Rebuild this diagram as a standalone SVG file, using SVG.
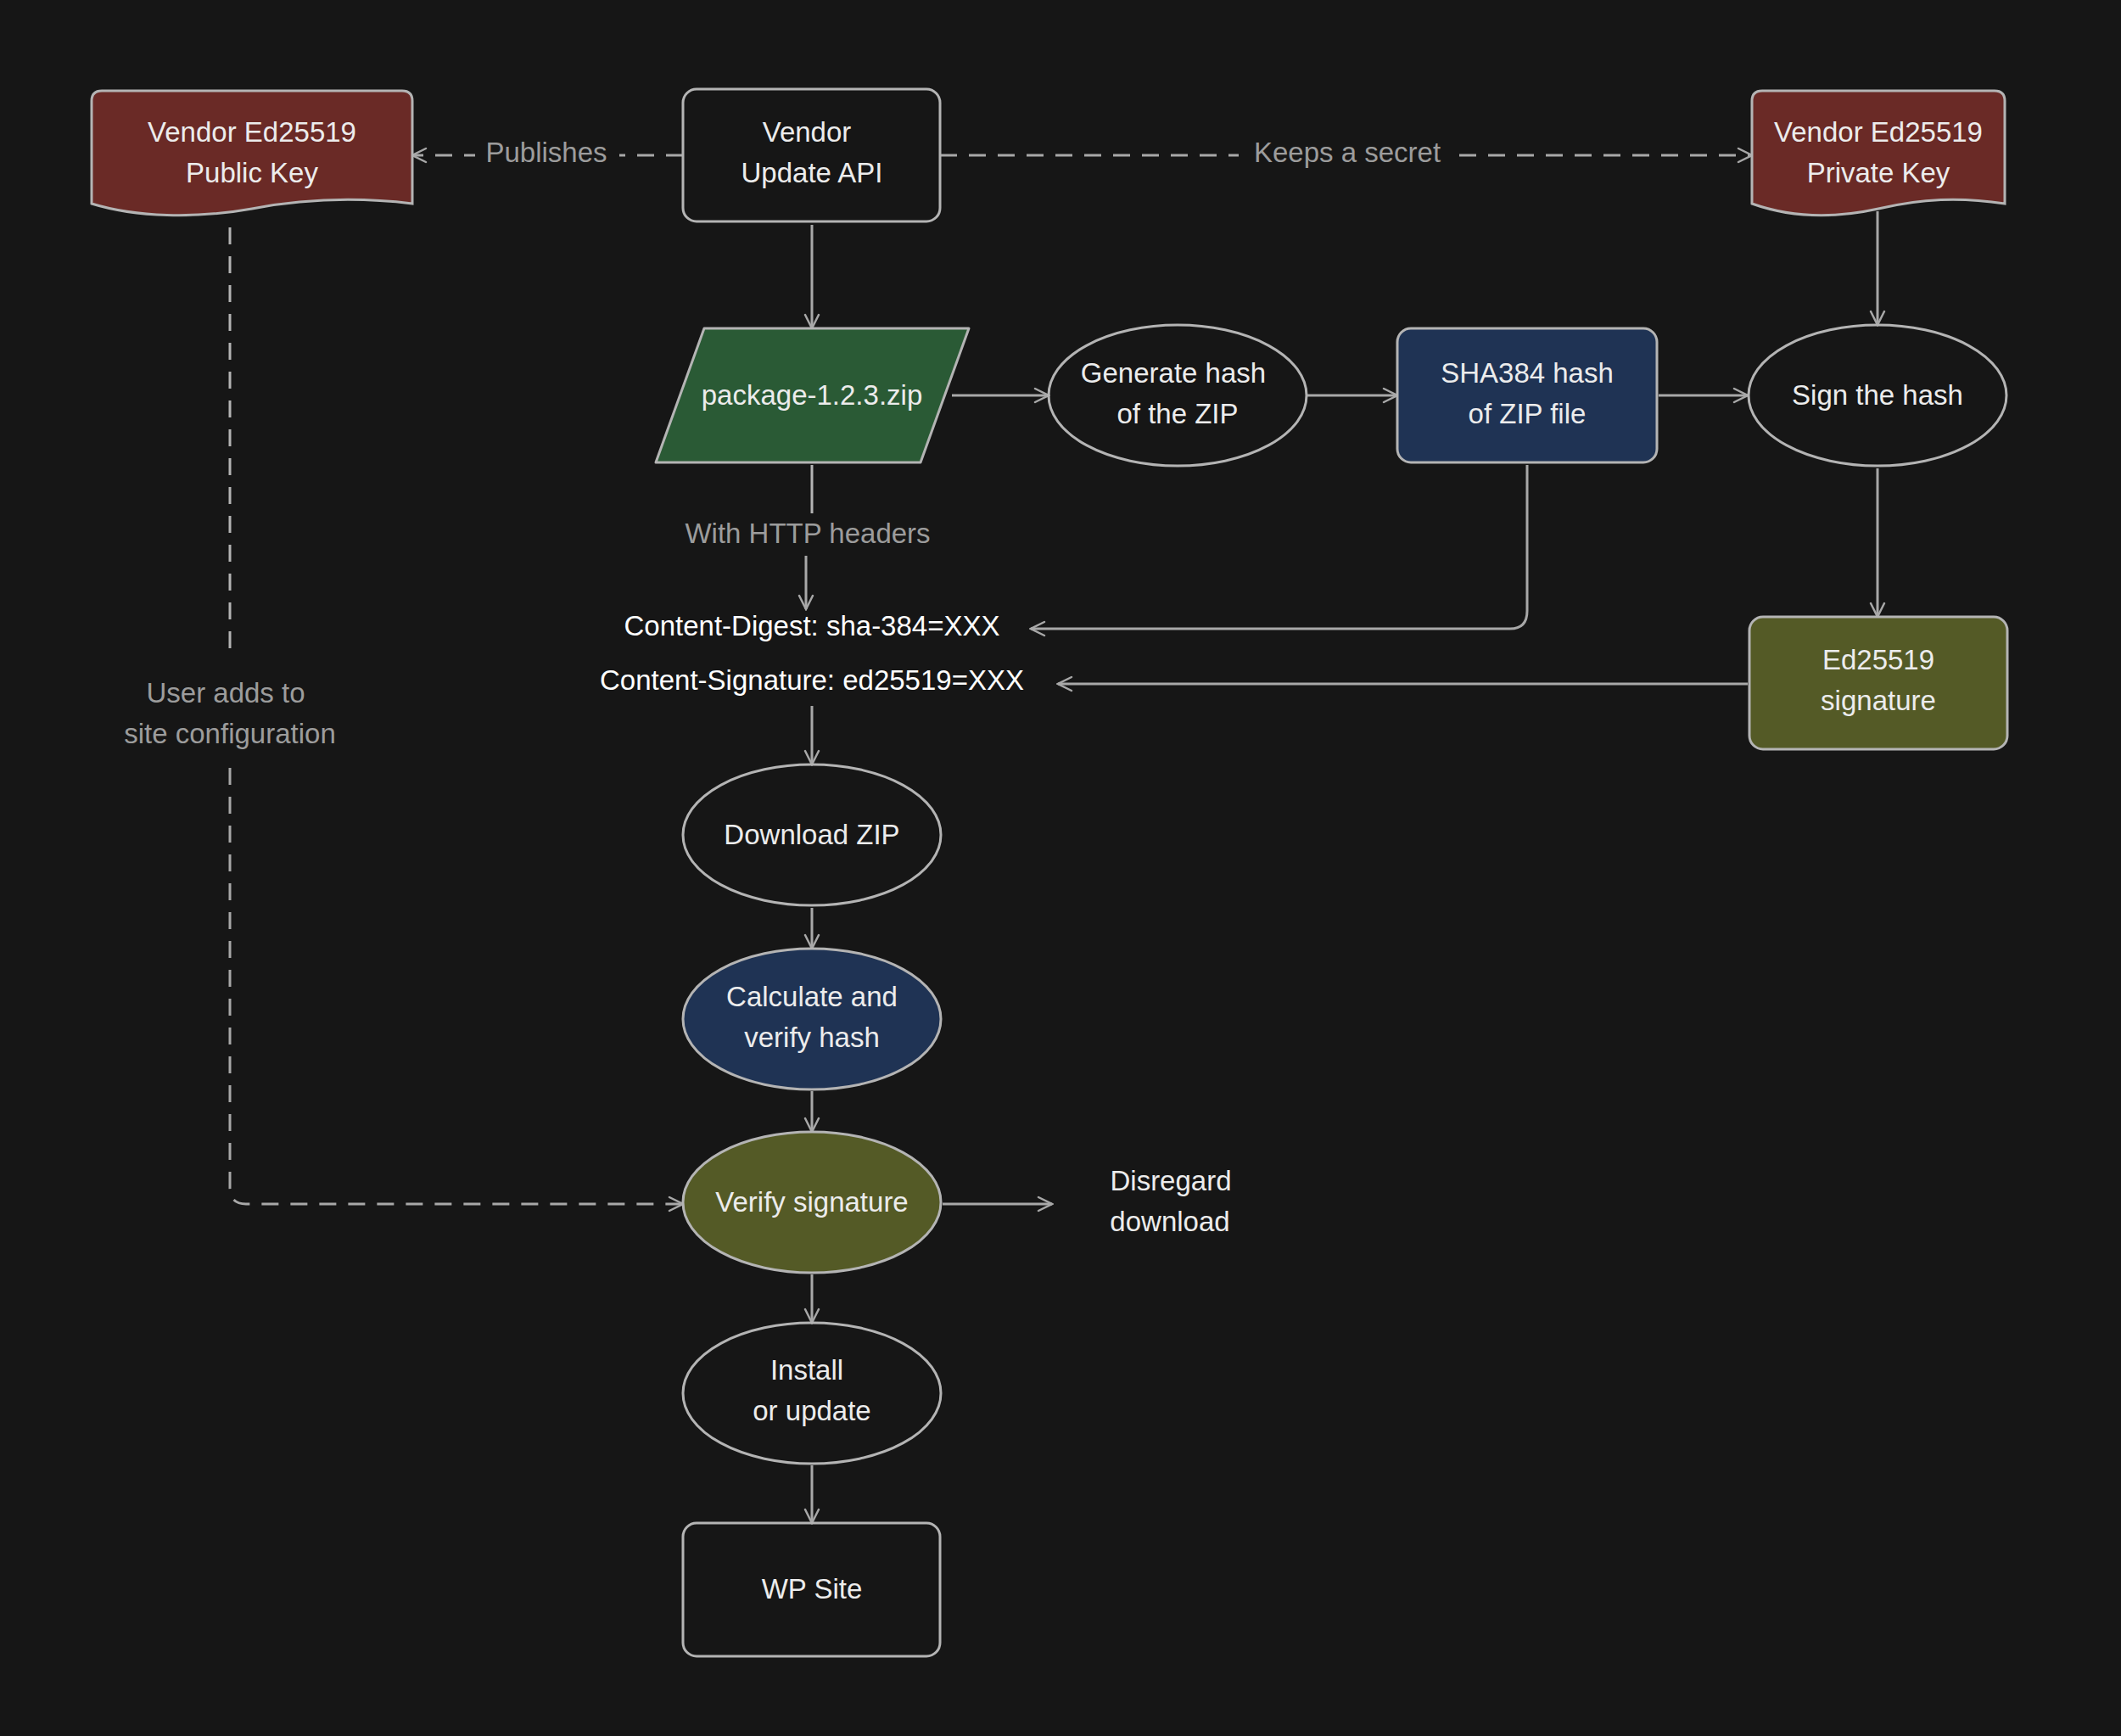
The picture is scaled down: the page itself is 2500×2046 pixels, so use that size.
<svg xmlns="http://www.w3.org/2000/svg" width="2500" height="2046" viewBox="0 0 2500 2046">
<defs>
<marker id="ah" viewBox="0 0 20 20" refX="18" refY="10" markerWidth="20" markerHeight="20" markerUnits="userSpaceOnUse" orient="auto"><path d="M2,2 L18,10 L2,18" fill="none" stroke="#a8a8a8" stroke-width="2.5" stroke-linecap="round"/></marker>
</defs>
<style>
.n{stroke:#b4b4b4;stroke-width:3;fill:none}
.t{font-family:"Liberation Sans",Arial,sans-serif;font-size:33px;fill:#ececec;text-anchor:middle}
.l{font-family:"Liberation Sans",Arial,sans-serif;font-size:33px;fill:#9c9c9c;text-anchor:middle}
.e{stroke:#a8a8a8;stroke-width:3;fill:none;marker-end:url(#ah)}
.d{stroke-dasharray:20 14}
</style>
<rect width="2500" height="2046" fill="#161616"/>
<g id="connectors">
<path class="e d" d="M805,183 H486"/>
<path class="e d" d="M1108,183 H2065"/>
<path class="e" d="M957,265 V387"/>
<path class="e" d="M1122,466 H1236"/>
<path class="e" d="M1540,466 H1647"/>
<path class="e" d="M1955,466 H2060"/>
<path class="e" d="M2213,249 V383"/>
<path class="e" d="M2213,552 V727"/>
<path class="n" d="M957,548 V605"/>
<path class="e" d="M950,655 V718"/>
<path class="e" d="M1800,548 V720 Q1800,741 1780,741 H1215"/>
<path class="e" d="M2060,806 H1247"/>
<path class="e" d="M957,832 V901"/>
<path class="e" d="M957,1070 V1118"/>
<path class="e" d="M957,1286 V1334"/>
<path class="e" d="M957,1502 V1559"/>
<path class="e" d="M957,1727 V1795"/>
<path class="e" d="M1111,1419 H1240"/>
<path class="n d" d="M271,268 V770"/>
<path class="e d" d="M271,905 V1400 Q271,1419 290,1419 H805"/>
<rect x="560" y="160" width="170" height="46" fill="#161616"/>
<text class="l" x="644" y="191">Publishes</text>
<rect x="1460" y="160" width="256" height="46" fill="#161616"/>
<text class="l" x="1588" y="191">Keeps a secret</text>
<text class="l" x="952" y="640">With HTTP headers</text>
<text class="l" x="266" y="828">User adds to</text>
<text class="l" x="271" y="876">site configuration</text>
</g>
<g id="pubkey">
<path class="n" fill="#6a2a26" style="fill:#6a2a26" d="M120,107 H474 Q486,107 486,119 V240 C420,232 360,234 297,246 C230,258 160,256 108,240 V119 Q108,107 120,107 Z"/>
<text class="t" x="297" y="167">Vendor Ed25519</text><text class="t" x="297" y="215">Public Key</text>
</g>
<g id="api">
<rect class="n" x="805" y="105" width="303" height="156" rx="16"/>
<text class="t" x="951" y="167">Vendor</text><text class="t" x="957" y="215">Update API</text>
</g>
<g id="privkey">
<path class="n" style="fill:#6a2a26" d="M2077,107 H2351 Q2363,107 2363,119 V240 C2310,232 2265,234 2214,246 C2160,258 2110,256 2065,240 V119 Q2065,107 2077,107 Z"/>
<text class="t" x="2214" y="167">Vendor Ed25519</text><text class="t" x="2214" y="215">Private Key</text>
</g>
<g id="zip">
<path class="n" style="fill:#2a5a35" d="M830,387 H1142 L1085,545 H773 Z" stroke-linejoin="round"/>
<text class="t" x="957" y="477">package-1.2.3.zip</text>
</g>
<g id="genhash">
<ellipse class="n" cx="1388" cy="466" rx="152" ry="83"/>
<text class="t" x="1383" y="451">Generate hash</text><text class="t" x="1388" y="499">of the ZIP</text>
</g>
<g id="sha">
<rect class="n" style="fill:#1f3354" x="1647" y="387" width="306" height="158" rx="16"/>
<text class="t" x="1800" y="451">SHA384 hash</text><text class="t" x="1800" y="499">of ZIP file</text>
</g>
<g id="sign">
<ellipse class="n" cx="2213" cy="466" rx="152" ry="83"/>
<text class="t" x="2213" y="477">Sign the hash</text>
</g>
<g id="edsig">
<rect class="n" style="fill:#545a26" x="2062" y="727" width="304" height="156" rx="16"/>
<text class="t" x="2214" y="789">Ed25519</text><text class="t" x="2214" y="837">signature</text>
</g>
<g id="headers">
<text class="t" x="957" y="749" style="fill:#fff">Content-Digest: sha-384=XXX</text>
<text class="t" x="957" y="813" style="fill:#fff">Content-Signature: ed25519=XXX</text>
</g>
<g id="download">
<ellipse class="n" cx="957" cy="984" rx="152" ry="83"/>
<text class="t" x="957" y="995">Download ZIP</text>
</g>
<g id="calc">
<ellipse class="n" style="fill:#1f3354" cx="957" cy="1201" rx="152" ry="83"/>
<text class="t" x="957" y="1186">Calculate and</text><text class="t" x="957" y="1234">verify hash</text>
</g>
<g id="verify">
<ellipse class="n" style="fill:#545a26" cx="957" cy="1417" rx="152" ry="83"/>
<text class="t" x="957" y="1428">Verify signature</text>
</g>
<g id="disregard">
<text class="t" x="1380" y="1403">Disregard</text><text class="t" x="1379" y="1451">download</text>
</g>
<g id="install">
<ellipse class="n" cx="957" cy="1642" rx="152" ry="83"/>
<text class="t" x="951" y="1626">Install</text><text class="t" x="957" y="1674">or update</text>
</g>
<g id="wp">
<rect class="n" x="805" y="1795" width="303" height="157" rx="16"/>
<text class="t" x="957" y="1884">WP Site</text>
</g>
</svg>
